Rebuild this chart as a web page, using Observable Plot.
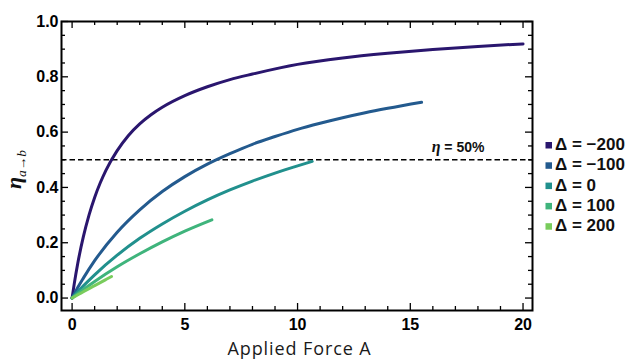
<!DOCTYPE html>
<html><head><meta charset="utf-8">
<script src="https://cdn.jsdelivr.net/npm/d3@7"></script>
<script src="https://cdn.jsdelivr.net/npm/@observablehq/plot@0.6"></script>
<style>body{margin:0;background:#fff} svg{display:block}</style>
</head><body><div id="chart"></div>
<script>
// ---- data ----
const deltas = [-200, -100, 0, 100, 200];
const legendLabels = ["Δ = −200", "Δ = −100", "Δ = 0", "Δ = 100", "Δ = 200"];
const colors = ["#2a166e", "#235a8e", "#21908d", "#3fb47c", "#79cc5c"];

const xDm200 = [0, 0.1, 0.25, 0.5, 0.75, 1, 1.25, 1.5, 2, 2.5, 3, 3.5, 4, 5, 6, 7, 8, 10, 12, 14, 16, 18, 20];
const yDm200 = [0, 0.054, 0.125, 0.222, 0.300, 0.364, 0.417, 0.462, 0.533, 0.588, 0.630, 0.663, 0.690, 0.732, 0.764, 0.790, 0.810, 0.845, 0.868, 0.885, 0.899, 0.910, 0.919];

const xDm100 = [0, 0.25, 0.5, 1, 2, 3, 4, 5, 6, 7, 8, 9, 10, 11, 12, 13, 14, 15.5];
const yDm100 = [0, 0.038, 0.072, 0.135, 0.238, 0.319, 0.385, 0.439, 0.484, 0.522, 0.556, 0.584, 0.610, 0.632, 0.652, 0.670, 0.686, 0.708];

const xD0 = [0, 0.5, 1, 2, 3, 4, 5, 6, 7, 8, 9, 10, 10.65];
const yD0 = [0, 0.044, 0.084, 0.155, 0.216, 0.268, 0.314, 0.355, 0.391, 0.423, 0.452, 0.478, 0.494];

const xD100 = [0, 0.5, 1, 2, 3, 4, 5, 6.2];
const yD100 = [0, 0.031, 0.060, 0.113, 0.160, 0.203, 0.242, 0.283];

const xD200 = [0, 0.5, 1, 1.5, 1.75];
const yD200 = [0, 0.023, 0.045, 0.067, 0.078];

const xMajorTicks = [0, 5, 10, 15, 20];
const xMinorTicks = [1, 2, 3, 4, 6, 7, 8, 9, 11, 12, 13, 14, 16, 17, 18, 19];
const yMajorTicks = [0, 0.2, 0.4, 0.6, 0.8, 1.0];
const yMinorTicks = [0.05, 0.1, 0.15, 0.25, 0.3, 0.35, 0.45, 0.5, 0.55, 0.65, 0.7, 0.75, 0.85, 0.9, 0.95];
const threshold = 0.5;
const xLabel = "Applied Force A";

// ---- build table ----
const series = [[xDm200, yDm200], [xDm100, yDm100], [xD0, yD0], [xD100, yD100], [xD200, yD200]];
const curveData = series.flatMap(([xs, ys], i) => xs.map((x, j) => ({x, y: ys[j], delta: deltas[i]})));

const W = 630, H = 362, mL = 61, mR = 98, mT = 21, mB = 52;
const innerW = W - mL - mR, innerH = H - mT - mB;
const major = 7, minor = 4;
const tickStyle = {stroke: "black", strokeWidth: 1.3};

const plot = Plot.plot({
  width: W, height: H,
  marginLeft: mL, marginRight: mR, marginTop: mT, marginBottom: mB,
  x: {domain: [-0.47, 20.42]},
  y: {domain: [-0.045, 1]},
  color: {domain: deltas, range: colors},
  style: {fontFamily: "'Liberation Sans', Arial, sans-serif", background: "white", color: "black"},
  marks: [
    Plot.ruleY([threshold], {stroke: "black", strokeWidth: 1.5, strokeDasharray: "5.5,3"}),
    Plot.line(curveData, {x: "x", y: "y", z: "delta", stroke: "delta", strokeWidth: 3, curve: "monotone-x"}),
    // inward ticks on all four sides
    Plot.ruleX(xMajorTicks, {x: d => d, insetTop: innerH - major, ...tickStyle}),
    Plot.ruleX(xMinorTicks, {x: d => d, insetTop: innerH - minor, ...tickStyle}),
    Plot.ruleX(xMajorTicks, {x: d => d, insetBottom: innerH - major, ...tickStyle}),
    Plot.ruleX(xMinorTicks, {x: d => d, insetBottom: innerH - minor, ...tickStyle}),
    Plot.ruleY(yMajorTicks, {y: d => d, insetRight: innerW - major, ...tickStyle}),
    Plot.ruleY(yMinorTicks, {y: d => d, insetRight: innerW - minor, ...tickStyle}),
    Plot.ruleY(yMajorTicks, {y: d => d, insetLeft: innerW - major, ...tickStyle}),
    Plot.ruleY(yMinorTicks, {y: d => d, insetLeft: innerW - minor, ...tickStyle}),
    Plot.frame({stroke: "black", strokeWidth: 2}),
    Plot.axisX(xMajorTicks, {tickSize: 0, tickPadding: 8, fontSize: 16, fontWeight: "bold", label: null}),
    Plot.axisY(yMajorTicks, {tickSize: 0, tickPadding: 3, tickFormat: d => d.toFixed(1), fontSize: 16, fontWeight: "bold", label: null})
  ]
});

document.getElementById("chart").append(plot);
const svg = d3.select(plot);
const xs = plot.scale("x"), ys = plot.scale("y");

// x axis label
svg.append("text")
  .attr("x", (mL + W - mR) / 2 + 3).attr("y", 354.5)
  .attr("text-anchor", "middle")
  .attr("font-family", "'Open Sans', sans-serif").attr("font-size", 18).attr("letter-spacing", 0.9).attr("fill", "#1a1a1a")
  .text(xLabel);

// y axis label  η_{a→b}
const yl = svg.append("text")
  .attr("transform", "translate(21,189) rotate(-90)")
  .attr("text-anchor", "start")
  .attr("font-family", "'Liberation Serif', serif").attr("font-style", "italic").attr("fill", "#111");
yl.append("tspan").attr("font-size", 22).attr("font-weight", "bold").text("η");
yl.append("tspan").attr("font-size", 13.5).attr("dy", 5).text("a→b");

// threshold annotation
const ann = svg.append("text")
  .attr("x", xs.apply(17.14)).attr("y", ys.apply(threshold) - 7.5)
  .attr("text-anchor", "middle").attr("font-size", 14).attr("fill", "#111");
ann.append("tspan").attr("font-family", "'Liberation Serif', serif").attr("font-style", "italic").attr("font-weight", "bold").attr("font-size", 16).text("η");
ann.append("tspan").attr("font-family", "'Liberation Sans', Arial, sans-serif").attr("font-weight", "bold").text(" = 50%");

// legend
const lg = svg.append("g").attr("text-anchor", "start");
deltas.forEach((d, i) => {
  const cy = 145 + i * 20.3;
  lg.append("rect").attr("x", 545.5).attr("y", cy - 3).attr("width", 6.5).attr("height", 6.5).attr("fill", colors[i]);
  lg.append("text").attr("x", 555).attr("y", cy + 5)
    .attr("text-anchor", "start")
    .attr("font-family", "'Liberation Sans', Arial, sans-serif").attr("font-weight", "bold").attr("font-size", 17)
    .attr("fill", "#111").text(legendLabels[i]);
});
</script>
</body></html>
